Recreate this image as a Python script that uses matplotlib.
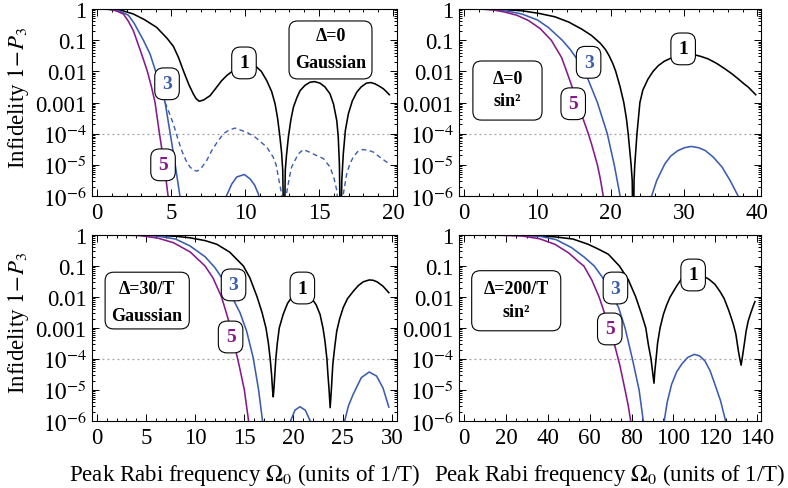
import numpy as np
import matplotlib.pyplot as plt
from matplotlib.patches import FancyBboxPatch
from matplotlib.ticker import LogLocator, MultipleLocator, NullFormatter

plt.rcParams['font.family'] = 'Liberation Serif'
plt.rcParams['mathtext.fontset'] = 'stix'

BLUE = '#3a5db0'
PURPLE = '#861a8a'

# curves: x = peak Rabi frequency, values given as log10(1 - P3)
# panel A: Delta=0, Gaussian
a1_x = [0, 0.5, 1.0, 1.7, 2.45, 3.2, 4.03, 4.75, 5.16, 5.5, 5.85, 6.2, 6.5, 6.7, 6.91, 7.2, 7.64, 8.0, 8.42, 8.8,
        9.2, 9.6, 10.0, 10.35, 10.68, 11.1, 11.47, 11.8, 12.03, 12.2, 12.36, 12.47, 12.55, 12.64, 12.72, 12.8, 12.93,
        13.1, 13.27, 13.5, 13.72, 14.05, 14.39, 14.7, 15.07, 15.4, 15.74, 15.98, 16.2, 16.3, 16.38, 16.46, 16.54,
        16.64, 16.78, 16.98, 17.25, 17.55, 17.85, 18.2, 18.5, 18.78, 19.05, 19.35, 19.55, 19.75]
a1_log = [0, 0, -0.01, -0.05, -0.16, -0.34, -0.59, -0.95, -1.2, -1.55, -2.0, -2.42, -2.72, -2.88, -2.96, -2.92,
          -2.78, -2.56, -2.3, -2.12, -1.98, -1.86, -1.8, -1.79, -1.82, -2.0, -2.3, -2.65, -3.04, -3.5, -4.11, -4.6,
          -5.18, -8, -5.18, -4.7, -4.11, -3.55, -3.15, -2.85, -2.62, -2.45, -2.35, -2.33, -2.38, -2.5, -2.72, -3.05,
          -3.58, -4.1, -5.0, -8, -5.5, -4.65, -3.9, -3.37, -2.95, -2.67, -2.5, -2.38, -2.36, -2.4, -2.47, -2.56,
          -2.65, -2.75]
a3_x = [0, 0.8, 1.5, 2.12, 2.5, 2.9, 3.13, 3.58, 3.96, 4.3, 4.6, 4.93, 5.27, 5.6, 5.7]
a3_log = [0, -0.01, -0.06, -0.2, -0.45, -0.8, -1.0, -1.44, -2.0, -2.45, -3.0, -3.95, -4.95, -6.0, -6.3]
a3b_x = [8.6, 8.76, 9.1, 9.44, 9.95, 10.34, 10.65, 10.9, 11.05]
a3b_log = [-6.3, -5.98, -5.62, -5.39, -5.31, -5.45, -5.65, -5.93, -6.3]
a3d_x = [4.6, 4.85, 5.16, 5.45, 5.72, 6.0, 6.28, 6.55, 6.78, 7.05, 7.41, 7.8, 8.2, 8.55, 8.87, 9.32, 9.66, 10.1,
         10.68, 11.1, 11.47, 11.9, 12.1, 12.25, 12.5, 12.68, 12.8, 13.0, 13.15, 13.6, 13.94, 14.3, 14.6, 15.3,
         15.74, 16.0, 16.2, 16.42, 16.64, 16.87, 17.1, 17.32, 17.6, 17.95, 18.3, 18.67, 19.1, 19.57, 19.73]
a3d_log = [-3.0, -3.3, -3.69, -4.15, -4.54, -4.85, -5.07, -5.18, -5.2, -5.1, -4.86, -4.5, -4.22, -4.0, -3.9, -3.82,
           -3.88, -3.95, -4.11, -4.28, -4.43, -4.75, -5.0, -5.39, -6.0, -7.0, -5.93, -5.4, -5.07, -4.65, -4.51,
           -4.58, -4.65, -4.8, -5.07, -5.4, -5.82, -7.0, -5.95, -5.29, -4.95, -4.75, -4.58, -4.51, -4.53, -4.59,
           -4.75, -4.91, -4.94]
a5_x = [0, 0.8, 1.3, 1.78, 2.1, 2.45, 2.68, 3.05, 3.4, 3.68, 3.92, 4.07, 4.22, 4.38, 4.53, 4.67, 4.8, 4.85]
a5_log = [0, -0.01, -0.06, -0.16, -0.38, -0.69, -1.0, -1.5, -2.0, -2.5, -3.0, -3.5, -4.0, -4.5, -5.0, -5.5, -6.0, -6.3]

# panel B: Delta=0, sin^2
b1_x = [0, 3, 5, 8.0, 10.2, 12.4, 14.3, 16.1, 17.4, 18.6, 19.3, 19.8, 20.3, 20.7, 21.3, 21.8, 22.15, 22.4, 22.6,
        22.8, 22.95, 23.1, 23.2, 23.3, 23.45, 23.6, 24.0, 24.4, 25.1, 25.8, 26.5, 27.3, 28.3, 29.5, 30.5, 31.3,
        32.3, 33.3, 34.5, 35.6, 36.5, 37.4, 38.2, 38.8, 39.8]
b1_log = [0, 0, -0.01, -0.06, -0.14, -0.25, -0.42, -0.65, -0.85, -1.1, -1.3, -1.5, -1.75, -2.0, -2.5, -3.0, -3.5,
          -4.0, -4.5, -5.0, -5.5, -8, -5.5, -5.0, -4.5, -4.0, -3.0, -2.6, -2.25, -2.0, -1.82, -1.68, -1.57, -1.48,
          -1.45, -1.46, -1.52, -1.6, -1.75, -1.92, -2.07, -2.24, -2.4, -2.51, -2.75]
b3_x = [0, 3.3, 5.5, 7.9, 10.0, 11.5, 13.4, 14.5, 15.4, 16.5, 17.0, 18.2, 19.55, 20.5, 21.3, 21.45]
b3_log = [0, -0.01, -0.05, -0.16, -0.35, -0.59, -1.0, -1.3, -1.6, -2.0, -2.3, -3.0, -4.0, -5.0, -6.0, -6.3]
b3b_x = [25.4, 25.6, 26.3, 27.4, 28.2, 29.2, 30.1, 31.0, 32.0, 32.9, 34.0, 35.2, 36.3, 37.4, 37.6]
b3b_log = [-6.3, -6.0, -5.5, -4.97, -4.72, -4.54, -4.45, -4.41, -4.45, -4.54, -4.75, -5.07, -5.5, -6.0, -6.3]
b5_x = [0, 2.5, 4.0, 5.6, 7.2, 8.8, 10.4, 11.9, 13.3, 14.0, 14.75, 15.5, 16.3, 16.96, 17.4, 18.2, 18.6, 19.0, 19.1]
b5_log = [0, -0.005, -0.03, -0.1, -0.2, -0.37, -0.63, -1.0, -1.55, -2.0, -2.5, -3.0, -3.56, -4.0, -4.33, -5.0,
          -5.45, -6.0, -6.3]

# panel C: Delta=30/T, Gaussian
c1_x = [0, 3, 6.07, 8.0, 9.46, 11.0, 12.2, 13.5, 14.9, 15.56, 16.3, 16.8, 17.2, 17.45, 17.63, 17.77, 17.87, 17.94,
        18.0, 18.1, 18.2, 18.35, 18.55, 18.95, 19.4, 19.8, 20.3, 20.85, 21.4, 21.8, 22.3, 22.7, 23.0, 23.2, 23.4,
        23.5, 23.62, 23.73, 23.85, 24.0, 24.2, 24.4, 24.7, 25.06, 25.5, 26.1, 26.6, 27.1, 27.7, 28.1, 28.5, 29.1,
        29.7]
c1_log = [0, 0, -0.01, -0.04, -0.09, -0.18, -0.3, -0.55, -1.0, -1.38, -2.0, -2.5, -3.0, -3.5, -4.0, -4.5, -5.0,
          -5.22, -5.0, -4.5, -4.0, -3.5, -3.0, -2.56, -2.2, -2.02, -1.9, -1.86, -1.92, -2.02, -2.25, -2.56, -3.0,
          -3.42, -4.0, -4.49, -5.0, -5.57, -5.0, -4.17, -3.6, -3.1, -2.7, -2.34, -2.05, -1.81, -1.63, -1.51, -1.45,
          -1.46, -1.51, -1.65, -1.86]
c3_x = [0, 4, 6.07, 8.0, 9.46, 11.0, 12.0, 12.85, 13.6, 14.21, 14.55, 15.23, 15.9, 16.45, 16.85, 16.95]
c3_log = [0, -0.005, -0.03, -0.13, -0.35, -0.7, -1.05, -1.45, -1.9, -2.29, -2.5, -3.1, -3.96, -5.0, -6.0, -6.3]
c3b_x = [19.6, 19.7, 20.15, 20.65, 21.2, 21.7, 21.8]
c3b_log = [-6.3, -6.0, -5.65, -5.54, -5.65, -6.0, -6.3]
c3c_x = [25.1, 25.2, 25.6, 26.07, 26.9, 27.7, 28.45, 29.1, 29.7]
c3c_log = [-6.3, -6.0, -5.5, -5.14, -4.6, -4.42, -4.55, -4.93, -5.55]
c5_x = [0, 3, 4.4, 6.2, 7.8, 9.5, 11.0, 11.8, 12.68, 13.2, 13.7, 14.2, 14.5, 15.0, 15.43, 15.5]
c5_log = [0, -0.005, -0.02, -0.1, -0.25, -0.55, -1.0, -1.38, -2.0, -2.55, -3.1, -3.83, -4.25, -5.0, -6.0, -6.3]

# panel D: Delta=200/T, sin^2
d1_x = [0, 20, 30, 43.4, 52, 59.3, 64, 68.9, 74.2, 78.5, 82.0, 84.8, 86.8, 88.0, 89.3, 90.0, 90.7, 91.1, 91.7,
        92.4, 93.6, 95.2, 96.8, 98.4, 101.5, 104.2, 106.5, 109, 111.5, 114.2, 117, 119.8, 122.3, 124.2, 126.5,
        128.6, 129.8, 131, 131.7, 132.3, 133.0, 133.8, 134.7, 135.7, 137.0, 138.1, 138.9]
d1_log = [0, 0, -0.01, -0.06, -0.13, -0.3, -0.45, -0.62, -1.0, -1.45, -2.0, -2.56, -3.0, -3.53, -4.0, -4.4, -4.78,
          -4.4, -4.0, -3.5, -3.0, -2.56, -2.25, -2.0, -1.65, -1.38, -1.3, -1.26, -1.27, -1.32, -1.43, -1.59, -1.83,
          -2.05, -2.45, -2.88, -3.2, -3.74, -4.0, -4.2, -3.9, -3.53, -3.1, -2.77, -2.5, -2.29, -2.15]
d3_x = [0, 20, 35.5, 44, 51.4, 57.5, 62.2, 67.3, 70.8, 73.7, 76.9, 80.4, 83.6, 85.6, 86.0]
d3_log = [0, -0.005, -0.03, -0.15, -0.41, -0.72, -1.0, -1.48, -2.0, -2.32, -3.0, -4.0, -5.0, -6.0, -6.3]
d3b_x = [95.2, 95.6, 97.0, 99.1, 101.5, 103.9, 106.8, 109.9, 112.5, 115, 117.5, 119.8, 122.5, 124.9, 125.2]
d3b_log = [-6.3, -6.0, -5.4, -4.82, -4.42, -4.17, -3.95, -3.85, -3.9, -4.06, -4.38, -4.82, -5.35, -6.0, -6.3]
d5_x = [0, 15, 27.5, 36, 43.4, 50, 55, 57.2, 61, 64.5, 67.0, 69.5, 72.1, 74.4, 76.9, 78.4, 79.6, 80.0]
d5_log = [0, -0.005, -0.03, -0.12, -0.3, -0.58, -0.88, -1.0, -1.45, -2.0, -2.5, -3.0, -3.6, -4.2, -5.0, -5.5,
          -6.0, -6.3]

ytick_vals = [1, 0.1, 0.01, 0.001, 1e-4, 1e-5, 1e-6]
ytick_text = ['1', '0.1', '0.01', '0.001', r'$10^{-4}$', r'$10^{-5}$', r'$10^{-6}$']
threshold = 1e-4

panel_titles = [('Δ=0', 'Gaussian'), ('Δ=0', 'sin²'), ('Δ=30/T', 'Gaussian'), ('Δ=200/T', 'sin²')]
# label anchors (x, log10 y) for the 1, 3, 5 tags
tags = [[(9.93, -1.73), (4.73, -2.4), (4.46, -5.0)],
        [(29.9, -1.28), (17.0, -1.71), (14.9, -3.04)],
        [(20.9, -1.71), (13.9, -1.61), (13.6, -3.29)],
        [(109.4, -1.29), (72.3, -1.71), (69.6, -3.03)]]

W, H = 788, 489
fig = plt.figure(figsize=(W / 100, H / 100), dpi=100)
rects = [(92, 10, 397, 197), (459, 10, 761, 197), (92, 236, 397, 422), (459, 236, 761, 422)]
xlims = [(-0.34, 20.27), (-0.68, 40.52), (-0.5, 30.53), (-2.39, 141.8)]
xmajor = [5, 10, 5, 20]
xminor = [1, 2, 1, 5]
# title box in axes fraction: x0, y0, x1, y1, text x, line1 y, line2 y
boxes = [(0.646, 0.626, 0.918, 0.936, 0.782, 0.857, 0.715),
         (0.046, 0.406, 0.275, 0.722, 0.161, 0.626, 0.51),
         (0.043, 0.495, 0.319, 0.80, 0.18, 0.71, 0.566),
         (0.042, 0.485, 0.337, 0.808, 0.189, 0.713, 0.588)]

curves = [
    [(a1_x, a1_log, 'black', '-'), (a3_x, a3_log, BLUE, '-'), (a3b_x, a3b_log, BLUE, '-'),
     (a3d_x, a3d_log, BLUE, (0, (3.5, 2.5))), (a5_x, a5_log, PURPLE, '-')],
    [(b1_x, b1_log, 'black', '-'), (b3_x, b3_log, BLUE, '-'), (b3b_x, b3b_log, BLUE, '-'),
     (b5_x, b5_log, PURPLE, '-')],
    [(c1_x, c1_log, 'black', '-'), (c3_x, c3_log, BLUE, '-'), (c3b_x, c3b_log, BLUE, '-'),
     (c3c_x, c3c_log, BLUE, '-'), (c5_x, c5_log, PURPLE, '-')],
    [(d1_x, d1_log, 'black', '-'), (d3_x, d3_log, BLUE, '-'), (d3b_x, d3b_log, BLUE, '-'),
     (d5_x, d5_log, PURPLE, '-')],
]

for i in range(4):
    x0, y0, x1, y1 = rects[i]
    ax = fig.add_axes([x0 / W, 1 - y1 / H, (x1 - x0) / W, (y1 - y0) / H])
    ax.set_yscale('log')
    ax.set_ylim(1e-6, 1)
    ax.set_xlim(*xlims[i])
    ax.axhline(threshold, color='#a0a0a0', lw=0.9, ls=(0, (1.5, 2.5)), zorder=1)
    for xs, ls_, col, sty in curves[i]:
        lw = 1.0 if sty != '-' else 1.15
        ax.plot(xs, 10.0 ** np.array(ls_), color=col, lw=lw, ls=sty, zorder=2)

    for (tx, tl), num, col in zip(tags[i], ['1', '3', '5'], ['black', BLUE, PURPLE]):
        ax.text(tx, 10.0 ** tl, num, color=col, fontsize=14, fontweight='bold', ha='center', va='center',
                zorder=5, bbox=dict(boxstyle='round,pad=0.38,rounding_size=0.45', fc='white', ec='black', lw=0.8))

    bx0, by0, bx1, by1, tcx, l1y, l2y = boxes[i]
    aspect = ((x1 - x0) / (y1 - y0))
    box = FancyBboxPatch((bx0, by0), bx1 - bx0, by1 - by0, boxstyle='round,pad=0,rounding_size=0.028',
                         mutation_aspect=aspect, transform=ax.transAxes, fc='white', ec='black', lw=0.8, zorder=5)
    ax.add_patch(box)
    ax.text(tcx, l1y, panel_titles[i][0], transform=ax.transAxes, ha='center', va='center', fontsize=13,
            fontweight='bold', zorder=6)
    ax.text(tcx, l2y, panel_titles[i][1], transform=ax.transAxes, ha='center', va='center', fontsize=13,
            fontweight='bold', zorder=6)

    ax.set_yticks(ytick_vals)
    ax.set_yticklabels(ytick_text)
    ax.yaxis.set_minor_locator(LogLocator(base=10, subs=np.arange(2, 10), numticks=20))
    ax.yaxis.set_minor_formatter(NullFormatter())
    ax.xaxis.set_major_locator(MultipleLocator(xmajor[i]))
    ax.xaxis.set_minor_locator(MultipleLocator(xminor[i]))
    ax.tick_params(which='both', direction='in', top=True, right=True, width=0.7, labelsize=16.5, pad=4)
    ax.tick_params(which='major', length=5)
    ax.tick_params(which='minor', length=2.5)
    for s in ax.spines.values():
        s.set_linewidth(0.8)

    if i % 2 == 0:
        ax.set_ylabel(r'Infidelity $1\!-\!P_3$', fontsize=16.5)
        ax.yaxis.set_label_coords(-0.2, 0.53)
    if i >= 2:
        ax.set_xlabel(r'Peak Rabi frequency $\Omega_0$ (units of 1/T)', fontsize=16.5)
        ax.xaxis.set_label_coords(0.5, -0.215)

fig.savefig('out.png', dpi=100)
